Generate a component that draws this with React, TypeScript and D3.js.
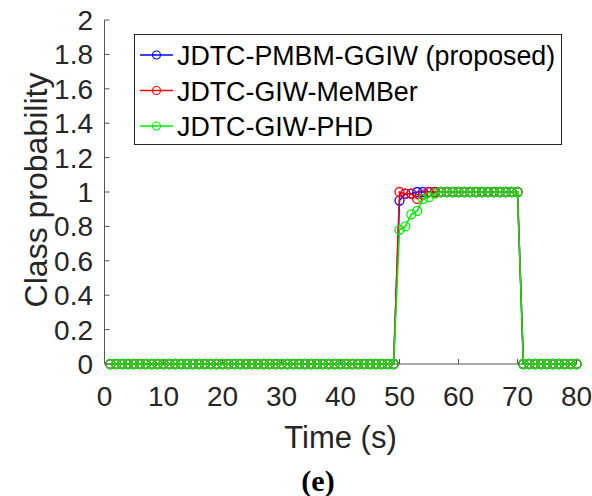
import React from "react";
import * as d3 from "d3";

const times = d3.range(1, 81);
const zeros49 = [0,0,0,0,0,0,0,0,0,0, 0,0,0,0,0,0,0,0,0,0, 0,0,0,0,0,0,0,0,0,0, 0,0,0,0,0,0,0,0,0,0, 0,0,0,0,0,0,0,0,0];
const tail10 = [0,0,0,0,0,0,0,0,0,0];
// values for t = 50..70
const blueMid = [0.95,0.99,0.99,1,1,1,1,1,1,1,1,1,1,1,1,1,1,1,1,1,1];
const redMid = [1,0.99,0.99,0.96,0.985,1,1,1,1,1,1,1,1,1,1,1,1,1,1,1,1];
const greenMid = [0.78,0.8,0.87,0.89,0.96,0.97,0.99,1,1,1,1,1,1,1,1,1,1,1,1,1,1];

const pmbm = [...zeros49, ...blueMid, ...tail10];
const member = [...zeros49, ...redMid, ...tail10];
const phd = [...zeros49, ...greenMid, ...tail10];

const seriesNames = ["JDTC-PMBM-GGIW (proposed)", "JDTC-GIW-MeMBer", "JDTC-GIW-PHD"];
const seriesColors = ["#0000ff", "#ff0000", "#00ee00"];
const seriesValues = [pmbm, member, phd];

const xTicks = [0, 10, 20, 30, 40, 50, 60, 70, 80];
const yTicks = [0, 0.2, 0.4, 0.6, 0.8, 1, 1.2, 1.4, 1.6, 1.8, 2];

export default function App() {
  const W = 592, H = 496;
  const x = d3.scaleLinear().domain([0, 80]).range([104.5, 576.5]);
  const y = d3.scaleLinear().domain([0, 2]).range([364, 20]);
  const line = d3.line<number>().x((_, i) => x(times[i])).y((v) => y(v));
  const font = "'Liberation Sans', Arial, Helvetica, sans-serif";
  const axisColor = "#555";
  const tickLen = 5;
  return (
    <svg width={W} height={H} style={{ position: "absolute", left: 0, top: 0, background: "#fff" }}>
      <rect x={0} y={0} width={W} height={H} fill="#fff" />
      {/* axes */}
      <line x1={x(0)} x2={x(0)} y1={y(2)} y2={y(0)} stroke={axisColor} strokeWidth={1} />
      <line x1={x(0)} x2={x(80)} y1={y(0)} y2={y(0)} stroke={axisColor} strokeWidth={1} />
      {yTicks.map((t) => (
        <g key={"y" + t}>
          <line x1={x(0)} x2={x(0) + tickLen} y1={y(t)} y2={y(t)} stroke={axisColor} strokeWidth={1} />
          <text x={93} y={y(t)} dy="0.36em" textAnchor="end" fontFamily={font} fontSize={28} fill="#262626">
            {d3.format("~g")(t)}
          </text>
        </g>
      ))}
      {xTicks.map((t) => (
        <g key={"x" + t}>
          <line x1={x(t)} x2={x(t)} y1={y(0)} y2={y(0) - tickLen} stroke={axisColor} strokeWidth={1} />
          <text x={x(t)} y={406} textAnchor="middle" fontFamily={font} fontSize={28} fill="#262626">
            {t}
          </text>
        </g>
      ))}
      {/* series */}
      {seriesValues.map((vals, si) => (
        <g key={"s" + si}>
          <path d={line(vals) || ""} fill="none" stroke={seriesColors[si]} strokeWidth={1.5} />
          {vals.map((v, i) => (
            <circle key={i} cx={x(times[i])} cy={y(v)} r={4.5} fill="none" stroke={seriesColors[si]} strokeWidth={1.3} />
          ))}
        </g>
      ))}
      {/* labels */}
      <text x={340.5} y={448} textAnchor="middle" fontFamily={font} fontSize={31} fill="#262626">Time (s)</text>
      <text transform="translate(47,190) rotate(-90)" textAnchor="middle" fontFamily={font} fontSize={32} fill="#262626">Class probability</text>
      {/* legend */}
      <rect x={134.5} y={34.5} width={427} height={110} fill="#fff" stroke="#262626" strokeWidth={1} />
      {seriesNames.map((n, i) => {
        const cy = 55 + i * 35.5;
        return (
          <g key={"l" + i}>
            <line x1={140} x2={173} y1={cy} y2={cy} stroke={seriesColors[i]} strokeWidth={1.4} />
            <circle cx={156.5} cy={cy} r={4} fill="none" stroke={seriesColors[i]} strokeWidth={1.2} />
            <text x={177} y={cy + 10} fontFamily={font} fontSize={26.8} fill="#000">{n}</text>
          </g>
        );
      })}
      <text x={318} y={491} textAnchor="middle" fontFamily="'Liberation Serif', 'Times New Roman', serif" fontWeight="bold" fontSize={30} fill="#000">(e)</text>
    </svg>
  );
}
